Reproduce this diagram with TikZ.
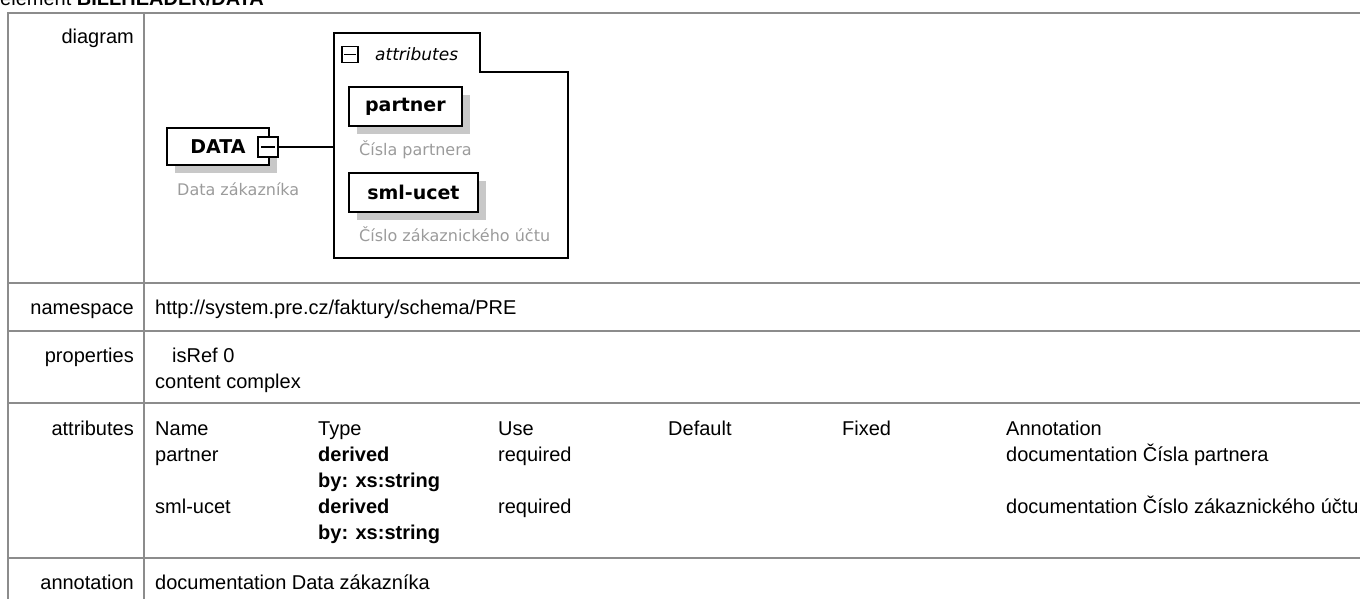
\documentclass[tikz,border=0pt]{standalone}
\usepackage{fontspec}
\setmainfont{Liberation Sans}
\newfontfamily\diafont{DejaVu Sans}
\usetikzlibrary{positioning,shadows}
\definecolor{gridgray}{RGB}{140,140,140}
\definecolor{notegray}{RGB}{155,155,155}
\definecolor{shadowgray}{RGB}{200,200,200}

\begin{document}
\begin{tikzpicture}[x=1pt,y=-1pt,
    cell/.style={draw=gridgray,line width=1.8pt},
    lbl/.style={anchor=base east,inner sep=0pt,font=\fontsize{20}{26}\selectfont},
    txt/.style={anchor=base west,inner sep=0pt,font=\fontsize{20}{26}\selectfont},
    elem/.style={draw,line width=1.8pt,fill=white,inner sep=0pt,anchor=north west,
                 general shadow={fill=shadowgray,shadow xshift=8pt,shadow yshift=-8pt},
                 font=\diafont\bfseries\fontsize{19}{22}\selectfont},
    note/.style={anchor=base west,inner sep=0pt,text=notegray,font=\diafont\fontsize{16}{19}\selectfont},
    toggle/.style={draw,line width=1.4pt,fill=white,inner sep=0pt,minimum size=#1},
    conn/.style={line width=1.8pt}]

  \useasboundingbox (0,0) rectangle (1360,599);
  \clip (0,0) rectangle (1360,599);

  \node[txt] (title) at (0,6) {element \textbf{BILLHEADER/DATA}};

  % table grid
  \draw[cell] (1370,13) -- (8,13) -- (8,610);
  \draw[cell] (144,13) -- (144,610);
  \foreach \y in {283,331,403,558}
    \draw[cell] (8,\y) -- (1370,\y);

  % left column
  \node[lbl] (diagramlbl) at (134,44) {diagram};
  \node[lbl] (namespacelbl) at (134,314) {namespace};
  \node[lbl] (propertieslbl) at (134,362) {properties};
  \node[lbl] (attributeslbl) at (134,435) {attributes};
  \node[lbl] (annotationlbl) at (134,589) {annotation};

  % values
  \node[txt] (nsurl) at (155,314) {http://system.pre.cz/faktury/schema/PRE};
  \node[txt] (isref) at (172,362) {isRef 0};
  \node[txt] (content) at (155,388) {content complex};
  \foreach \x/\t in {155/Name,318/Type,498/Use,668/Default,842/Fixed,1006/Annotation}
    \node[txt] (hd\t) at (\x,435) {\t};
  \node[txt] (partnername) at (155,461) {partner};
  \node[txt] (partnertype) at (318,461) {\textbf{derived}};
  \node[txt] (partnerby) at (318,487) {\textbf{by: xs:string}};
  \node[txt] (partneruse) at (498,461) {required};
  \node[txt] (partnerdoc) at (1006,461) {documentation Čísla partnera};
  \node[txt] (smlname) at (155,513) {sml-ucet};
  \node[txt] (smltype) at (318,513) {\textbf{derived}};
  \node[txt] (smlby) at (318,539) {\textbf{by: xs:string}};
  \node[txt] (smluse) at (498,513) {required};
  \node[txt] (smldoc) at (1006,513) {documentation Číslo zákaznického účtu};
  \node[txt] (annotdoc) at (155,589) {documentation Data zákazníka};

  % diagram
  \node[elem,minimum width=102pt,minimum height=37pt] (data) at (166,127) {DATA\hspace{10pt}};
  \node[note] (datanote) at (177,195.5) {Data zákazníka};
  \node[toggle=20pt] (datatoggle) at (268,147) {};
  \draw[line width=1.4pt] ([xshift=4pt]datatoggle.west) -- ([xshift=-4pt]datatoggle.east);

  \draw[conn] (334,33) -- (480,33) -- (480,72) -- (568,72) -- (568,258) -- (334,258) -- cycle;
  \coordinate (grpin) at (334,147);
  \draw[conn] (datatoggle.east) -- (grpin);
  \node[toggle=16pt] (grptoggle) at (350,54.5) {};
  \draw[line width=1.4pt] ([xshift=3pt]grptoggle.west) -- ([xshift=-3pt]grptoggle.east);
  \node[anchor=west,inner sep=0pt,font=\diafont\itshape\fontsize{17}{20}\selectfont] (grplbl) at (375,54) {attributes};

  \node[elem,minimum width=113pt,minimum height=39pt] (partner) at (348,86) {partner};
  \node[note] (partnernote) at (359,155.5) {Čísla partnera};
  \node[elem,minimum width=129pt,minimum height=39pt] (smlucet) at (348,172) {sml-ucet};
  \node[note] (smlnote) at (359,241.5) {Číslo zákaznického účtu};
\end{tikzpicture}
\end{document}
